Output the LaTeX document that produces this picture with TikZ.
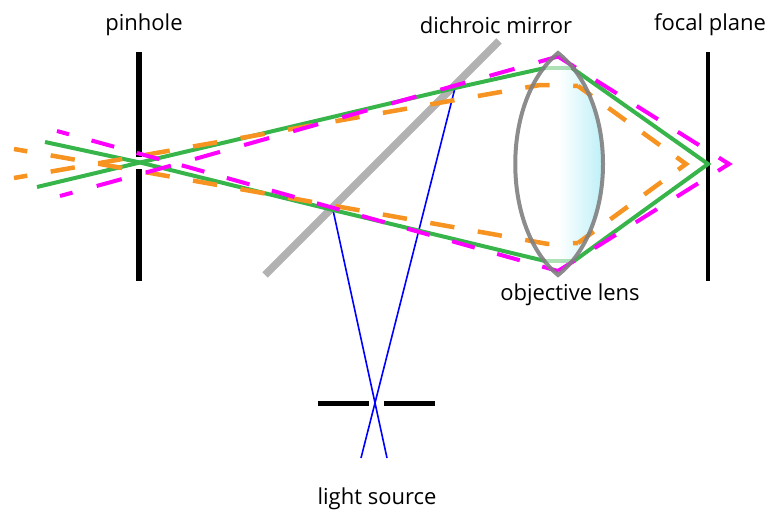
\documentclass[tikz,border=0pt]{standalone}
\usepackage{fontspec}
\setmainfont{Open Sans}
\usetikzlibrary{calc}
\definecolor{raygreen}{rgb}{0.22, 0.71, 0.29}
\definecolor{rayorange}{rgb}{0.97, 0.58, 0.13}
\definecolor{raymagenta}{rgb}{1.0, 0.0, 1.0}
\definecolor{lensgray}{rgb}{0.5, 0.5, 0.5}
\definecolor{mirrorgray}{rgb}{0.7, 0.7, 0.7}
\definecolor{lenscyan}{rgb}{0.66, 0.92, 0.96}

\begin{document}
\begin{tikzpicture}[x=1pt, y=-1pt]
% Define styles
\tikzset{
  stop bar/.style={black, line width=5.5pt},
  label text/.style={font=\fontsize{22}{26}\selectfont, inner sep=0pt},
  green ray/.style={raygreen, line width=4pt},
  orange ray/.style={rayorange, line width=4.5pt, dash pattern=on 24.5pt off 23.7pt, dash phase=11pt},
  orange tip/.style={rayorange, line width=4.5pt, dash pattern=on 21.5pt off 20.5pt, dash phase=4.5pt},
  magenta down/.style={raymagenta, line width=4pt, dash pattern=on 23.5pt off 23.3pt, dash phase=11pt},
  magenta up/.style={raymagenta, line width=4pt, dash pattern=on 26pt off 25pt, dash phase=13pt},
  magenta tip/.style={raymagenta, line width=4pt, dash pattern=on 25pt off 23.5pt, dash phase=4pt},
  blue ray/.style={blue, line width=1.6pt}
}

% Fix the margins
\useasboundingbox (0,0) rectangle (768,511);

% Labels
\node[label text] (pinhole) at (144,25) {pinhole};
\node[label text] (mirror) at (496,25) {dichroic mirror};
\node[label text] (focal) at (710,25) {focal plane};
\node[label text] (objective) at (570,295) {objective lens};
\node[label text] (source) at (377,499) {light source};

% Points of the rays
\coordinate (gUL) at (45,142);
\coordinate (gLL) at (37,187);
\coordinate (gCross) at (140,162.5);
\coordinate (gTopA) at (545,68);
\coordinate (gTopB) at (572,68);
\coordinate (gBotA) at (545,261);
\coordinate (gBotB) at (574,261);
\coordinate (gFocus) at (708,164);
\coordinate (hitLow) at (333,210);
\coordinate (hitHigh) at (455,88);
\coordinate (blueEndA) at (387,458);
\coordinate (blueEndB) at (361,458);

% Lens filling
\shade[left color=white, right color=lenscyan]
  (558,53) .. controls (618,100) and (618,228) .. (558,275) -- cycle;

% Mirror
\coordinate (mirrorA) at (265,275);
\coordinate (mirrorB) at (499,41);
\draw[mirrorgray, line width=7.5pt] (mirrorA) -- (mirrorB);

% Stops
\coordinate (pinTop) at (139,52);
\coordinate (pinUp) at (139,157);
\coordinate (pinDown) at (139,169);
\coordinate (pinBot) at (139,281);
\draw[stop bar] (pinTop) -- (pinUp);
\draw[stop bar] (pinDown) -- (pinBot);
\coordinate (focalTop) at (708,52);
\coordinate (focalBot) at (708,281);
\draw[stop bar, line width=4.5pt] (focalTop) -- (focalBot);
\coordinate (slitA) at (318,403);
\coordinate (slitB) at (369,403);
\coordinate (slitC) at (384,403);
\coordinate (slitD) at (435,403);
\draw[stop bar, line width=5pt] (slitA) -- (slitB);
\draw[stop bar, line width=5pt] (slitC) -- (slitD);

% Illumination
\draw[blue ray] (hitLow) -- (blueEndA);
\draw[blue ray] (hitHigh) -- (blueEndB);

% In focus
\draw[green ray] (gUL) -- (gCross) -- (hitLow) -- (gBotA);
\draw[green ray] (gLL) -- (gCross) -- (hitHigh) -- (gTopA);
\draw[green ray, opacity=0.4] (gTopA) -- (gTopB);
\draw[green ray, opacity=0.4] (gBotA) -- (gBotB);
\draw[green ray] (gTopB) -- (gFocus) -- (gBotB);

% Focus in front of the plane
\coordinate (oUL) at (14,149);
\coordinate (oLL) at (14,178);
\coordinate (oCross) at (97,163.5);
\coordinate (oTopA) at (540,85);
\coordinate (oTopB) at (578,86);
\coordinate (oBotA) at (548,244);
\coordinate (oBotB) at (578,243);
\coordinate (oFocus) at (686,164);
\draw[orange ray] (oUL) -- (oCross) -- (oBotA) -- (oBotB);
\draw[orange ray] (oLL) -- (oCross) -- (oTopA) -- (oTopB);
\draw[orange tip] (oTopB) -- (oFocus) -- (oBotB);

% Focus behind the plane
\coordinate (mUL) at (57,131);
\coordinate (mLL) at (60,196);
\coordinate (mCross) at (177,164);
\coordinate (mTop) at (558,56.5);
\coordinate (mBot) at (558,271);
\coordinate (mFocus) at (729,164);
\draw[magenta down] (mUL) -- (mCross) -- (mBot);
\draw[magenta up] (mLL) -- (mCross) -- (mTop);
\draw[magenta tip] (mTop) -- (mFocus) -- (mBot);

% Lens outline
\draw[lensgray, line width=4pt, opacity=0.9, line join=miter]
  (558,53) .. controls (618,100) and (618,228) .. (558,275)
  .. controls (501,228) and (501,100) .. cycle;
\end{tikzpicture}
\end{document}
